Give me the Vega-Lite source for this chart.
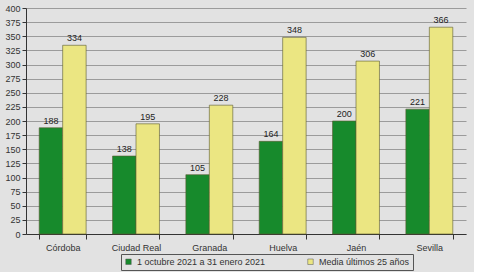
{
  "$schema": "https://vega.github.io/schema/vega-lite/v6.json",
  "width": 440,
  "height": 226,
  "padding": {"left": 4, "top": 4, "right": 8, "bottom": 2},
  "background": "#e2e2e2",
  "config": {
    "view": {"stroke": null},
    "font": "Liberation Sans",
    "axis": {"labelColor": "#333", "labelFontSize": 9, "domainColor": "#333", "tickColor": "#333"}
  },
  "data": {
    "values": [
      {"provincia": "Córdoba", "serie": "1 octubre 2021 a 31 enero 2021", "valor": 188},
      {"provincia": "Córdoba", "serie": "Media últimos 25 años", "valor": 334},
      {"provincia": "Ciudad Real", "serie": "1 octubre 2021 a 31 enero 2021", "valor": 138},
      {"provincia": "Ciudad Real", "serie": "Media últimos 25 años", "valor": 195},
      {"provincia": "Granada", "serie": "1 octubre 2021 a 31 enero 2021", "valor": 105},
      {"provincia": "Granada", "serie": "Media últimos 25 años", "valor": 228},
      {"provincia": "Huelva", "serie": "1 octubre 2021 a 31 enero 2021", "valor": 164},
      {"provincia": "Huelva", "serie": "Media últimos 25 años", "valor": 348},
      {"provincia": "Jaén", "serie": "1 octubre 2021 a 31 enero 2021", "valor": 200},
      {"provincia": "Jaén", "serie": "Media últimos 25 años", "valor": 306},
      {"provincia": "Sevilla", "serie": "1 octubre 2021 a 31 enero 2021", "valor": 221},
      {"provincia": "Sevilla", "serie": "Media últimos 25 años", "valor": 366}
    ]
  },
  "encoding": {
    "x": {
      "field": "provincia", "type": "nominal", "sort": null, "title": null,
      "scale": {"paddingInner": 0.36, "paddingOuter": 0.18},
      "axis": {"labelAngle": 0, "ticks": true, "tickBand": "extent", "labelPadding": 4}
    },
    "xOffset": {"field": "serie", "type": "nominal", "sort": null},
    "y": {
      "field": "valor", "type": "quantitative", "title": null,
      "scale": {"domain": [0, 400]},
      "axis": {"values": [0,25,50,75,100,125,150,175,200,225,250,275,300,325,350,375,400], "gridColor": "#8a8a8a", "gridOpacity": 0.8, "tickSize": 4}
    }
  },
  "layer": [
    {
      "mark": {"type": "bar", "stroke": "#5a5a30", "strokeWidth": 0.6},
      "encoding": {
        "color": {
          "field": "serie", "type": "nominal", "sort": null,
          "scale": {"domain": ["1 octubre 2021 a 31 enero 2021", "Media últimos 25 años"], "range": ["#178a2c", "#ebe682"]},
          "legend": {
            "title": null, "orient": "none", "direction": "horizontal",
            "legendX": 95, "legendY": 246,
            "symbolType": "square", "symbolSize": 30, "symbolStrokeColor": "#555", "symbolStrokeWidth": 0.5,
            "labelFontSize": 9, "labelColor": "#333", "strokeColor": "#555", "padding": 3,
            "columnPadding": 40
          }
        }
      }
    },
    {
      "mark": {"type": "text", "dy": -7, "fontSize": 9, "color": "#222"},
      "encoding": {"text": {"field": "valor", "type": "quantitative"}}
    }
  ]
}
